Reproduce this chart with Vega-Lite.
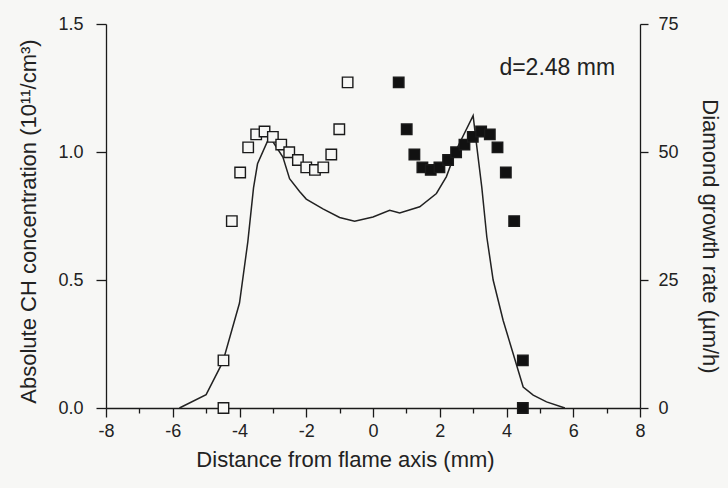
{
  "$schema": "https://vega.github.io/schema/vega-lite/v6.json",
  "width": 534,
  "height": 384,
  "autosize": "none",
  "padding": {"left": 106, "top": 24, "right": 88, "bottom": 80},
  "background": "#f7f7f5",
  "config": {
    "view": {"stroke": null},
    "axis": {
      "domainColor": "#1a1a1a",
      "domainWidth": 1.3,
      "tickColor": "#1a1a1a",
      "tickWidth": 1.3,
      "grid": false,
      "labelFont": "Liberation Sans",
      "labelFontSize": 18,
      "labelColor": "#222",
      "titleFont": "Liberation Sans",
      "titleFontSize": 22,
      "titleFontWeight": "normal",
      "titleColor": "#222"
    }
  },
  "datasets": {
    "rate": [
      {"x": -5.8, "rate": 0},
      {"x": -5.0, "rate": 2.6},
      {"x": -4.5, "rate": 9.0},
      {"x": -4.0, "rate": 20.5},
      {"x": -3.75, "rate": 32.5},
      {"x": -3.58, "rate": 43},
      {"x": -3.46, "rate": 47.7},
      {"x": -3.1, "rate": 53},
      {"x": -2.7, "rate": 49},
      {"x": -2.5, "rate": 44.8},
      {"x": -2.2, "rate": 42.3},
      {"x": -2.0, "rate": 40.8},
      {"x": -1.5, "rate": 38.9},
      {"x": -1.0, "rate": 37.2},
      {"x": -0.55, "rate": 36.5},
      {"x": 0.0, "rate": 37.3},
      {"x": 0.5, "rate": 38.6},
      {"x": 0.8, "rate": 38.1},
      {"x": 1.4, "rate": 39.3},
      {"x": 1.9, "rate": 41.9},
      {"x": 2.2, "rate": 45.2},
      {"x": 2.5, "rate": 50.5},
      {"x": 3.0, "rate": 57.1},
      {"x": 3.1, "rate": 51.6},
      {"x": 3.26, "rate": 43.1},
      {"x": 3.41, "rate": 33.4},
      {"x": 3.6, "rate": 25},
      {"x": 3.9, "rate": 17.1},
      {"x": 4.2, "rate": 10.6},
      {"x": 4.5, "rate": 4.1},
      {"x": 4.8, "rate": 2.5},
      {"x": 5.2, "rate": 1.2},
      {"x": 5.75, "rate": 0}
    ],
    "ch": [
      {"x": -4.48, "ch": 0, "side": "open"},
      {"x": -4.48, "ch": 0.186, "side": "open"},
      {"x": -4.23, "ch": 0.73, "side": "open"},
      {"x": -3.98, "ch": 0.92, "side": "open"},
      {"x": -3.74, "ch": 1.018, "side": "open"},
      {"x": -3.5, "ch": 1.069, "side": "open"},
      {"x": -3.25, "ch": 1.08, "side": "open"},
      {"x": -3.0, "ch": 1.059, "side": "open"},
      {"x": -2.75, "ch": 1.029, "side": "open"},
      {"x": -2.51, "ch": 0.999, "side": "open"},
      {"x": -2.25, "ch": 0.969, "side": "open"},
      {"x": -2.0, "ch": 0.94, "side": "open"},
      {"x": -1.74, "ch": 0.93, "side": "open"},
      {"x": -1.49, "ch": 0.94, "side": "open"},
      {"x": -1.25, "ch": 0.99, "side": "open"},
      {"x": -1.01, "ch": 1.089, "side": "open"},
      {"x": -0.76, "ch": 1.272, "side": "open"},
      {"x": 0.77, "ch": 1.272, "side": "filled"},
      {"x": 1.01, "ch": 1.089, "side": "filled"},
      {"x": 1.24, "ch": 0.99, "side": "filled"},
      {"x": 1.48, "ch": 0.94, "side": "filled"},
      {"x": 1.73, "ch": 0.93, "side": "filled"},
      {"x": 1.99, "ch": 0.94, "side": "filled"},
      {"x": 2.25, "ch": 0.969, "side": "filled"},
      {"x": 2.49, "ch": 0.999, "side": "filled"},
      {"x": 2.74, "ch": 1.029, "side": "filled"},
      {"x": 2.99, "ch": 1.059, "side": "filled"},
      {"x": 3.24, "ch": 1.08, "side": "filled"},
      {"x": 3.5, "ch": 1.069, "side": "filled"},
      {"x": 3.73, "ch": 1.018, "side": "filled"},
      {"x": 3.98, "ch": 0.92, "side": "filled"},
      {"x": 4.23, "ch": 0.73, "side": "filled"},
      {"x": 4.49, "ch": 0.186, "side": "filled"},
      {"x": 4.49, "ch": 0, "side": "filled"}
    ],
    "note": [
      {"x": 5.52, "ch": 1.33, "label": "d=2.48 mm"}
    ]
  },
  "encoding": {
    "x": {
      "field": "x",
      "type": "quantitative",
      "scale": {"domain": [-8, 8], "nice": false, "zero": false},
      "axis": {
        "title": "Distance from flame axis (mm)",
        "values": [-8, -7, -6, -5, -4, -3, -2, -1, 0, 1, 2, 3, 4, 5, 6, 7, 8],
        "labelExpr": "datum.value % 2 === 0 ? (datum.value < 0 ? '-' + abs(datum.value) : '' + datum.value) : ''",
        "tickSize": {"condition": {"test": "datum.value % 2 === 0", "value": 9}, "value": 5},
        "labelPadding": 5,
        "titlePadding": 9,
        "titleX": 239,
        "labelFlush": false,
        "labelOverlap": false
      }
    }
  },
  "layer": [
    {
      "data": {"name": "rate"},
      "mark": {"type": "line", "color": "#222", "strokeWidth": 1.5, "interpolate": "linear"},
      "encoding": {
        "y": {
          "field": "rate",
          "type": "quantitative",
          "scale": {"domain": [0, 75], "nice": false},
          "axis": {
            "orient": "right",
            "title": "Diamond growth rate (µm/h)",
            "values": [0, 25, 50, 75],
            "tickSize": 8,
            "labelPadding": 10,
            "titlePadding": 19,
            "titleY": 212
          }
        }
      }
    },
    {
      "layer": [
        {
          "data": {"name": "ch"},
          "mark": {"type": "point", "shape": "square", "size": 110, "strokeWidth": 1.4, "stroke": "#1a1a1a", "opacity": 1, "filled": false},
          "encoding": {
            "y": {
              "field": "ch",
              "type": "quantitative",
              "scale": {"domain": [0, 1.5], "nice": false},
              "axis": {
                "orient": "left",
                "title": "Absolute CH concentration (10¹¹/cm³)",
                "values": [0, 0.5, 1, 1.5],
                "format": ".1f",
                "tickSize": 10,
                "labelPadding": 13,
                "titlePadding": 17,
                "titleY": 197
              }
            },
            "fill": {
              "field": "side",
              "type": "nominal",
              "scale": {"domain": ["open", "filled"], "range": ["#f7f7f5", "#111111"]},
              "legend": null
            }
          }
        },
        {
          "data": {"name": "note"},
          "mark": {"type": "text", "font": "Liberation Sans", "fontSize": 23, "color": "#222", "align": "center", "baseline": "middle"},
          "encoding": {
            "y": {"field": "ch", "type": "quantitative"},
            "text": {"field": "label"}
          }
        }
      ]
    }
  ],
  "resolve": {"scale": {"y": "independent"}}
}
